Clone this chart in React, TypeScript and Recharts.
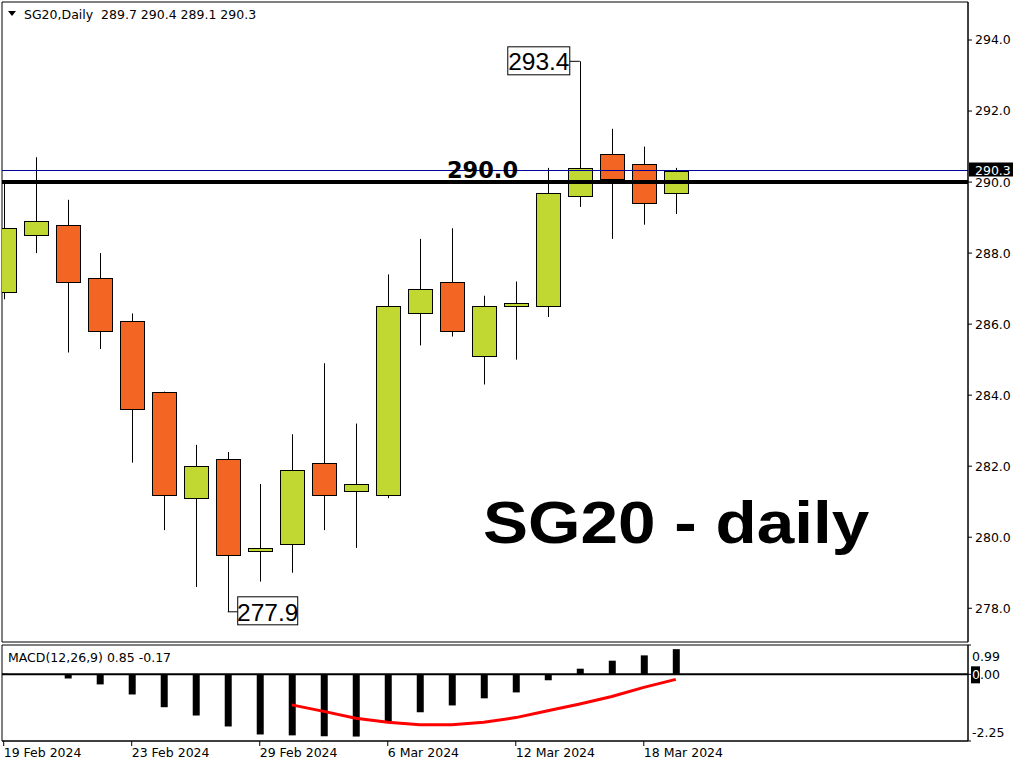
import {
  ComposedChart,
  Bar,
  Line,
  XAxis,
  YAxis,
  ReferenceLine,
  ReferenceArea,
  ReferenceDot,
} from "recharts";

// bar index 0 = 19 Feb 2024 ... 21 = 19 Mar 2024
const dayIndex = [0, 1, 2, 3, 4, 5, 6, 7, 8, 9, 10, 11, 12, 13, 14, 15, 16, 17, 18, 19, 20, 21];
const opens = [286.9, 288.5, 288.8, 287.3, 286.1, 284.1, 281.1, 282.2, 279.6, 279.8, 282.1, 281.3, 281.2, 286.3, 287.2, 285.1, 286.5, 286.5, 289.6, 290.8, 290.5, 289.7];
const highs = [290.0, 290.7, 289.5, 288.0, 286.3, 284.1, 282.6, 282.4, 281.5, 282.9, 284.9, 283.2, 287.4, 288.4, 288.7, 286.8, 287.2, 290.4, 293.4, 291.5, 291.0, 290.4];
const lows = [286.7, 288.0, 285.2, 285.3, 282.1, 280.2, 278.6, 277.9, 278.75, 279.0, 280.2, 279.7, 281.1, 285.4, 285.65, 284.3, 285.0, 286.2, 289.3, 288.4, 288.8, 289.1];
const closes = [288.7, 288.9, 287.2, 285.8, 283.6, 281.2, 282.0, 279.5, 279.7, 281.9, 281.2, 281.5, 286.5, 287.0, 285.8, 286.5, 286.6, 289.7, 290.4, 290.1, 289.4, 290.3];

const macdMain = [0.02, -0.02, -0.14, -0.34, -0.68, -1.11, -1.39, -1.76, -2.03, -2.06, -2.09, -2.1, -1.6, -1.28, -1.05, -0.81, -0.61, -0.2, 0.19, 0.46, 0.64, 0.85];
const macdSignal = [null, null, null, null, null, null, null, null, null, -1.03, -1.25, -1.48, -1.62, -1.7, -1.7, -1.62, -1.46, -1.23, -1.0, -0.75, -0.44, -0.17];

const priceTicks = [278, 280, 282, 284, 286, 288, 290, 292, 294];
const dateTicks = [0, 4, 8, 12, 16, 20];
const dateLabels = ["19 Feb 2024", "23 Feb 2024", "29 Feb 2024", "6 Mar 2024", "12 Mar 2024", "18 Mar 2024"];
const macdTicks = [0.99, 0, -2.25];

const xDomain = [-0.053, 30.13];
const priceDomain = [277.05, 295.07];
const macdDomain = [-2.25, 0.99];

const GREEN = "#c1d832";
const ORANGE = "#f26522";
const FONT = "'DejaVu Sans', Tahoma, sans-serif";

const candles = dayIndex.map((i, k) => ({
  i,
  open: opens[k],
  high: highs[k],
  low: lows[k],
  close: closes[k],
  range: [lows[k], highs[k]],
}));

const macdData = dayIndex.map((i, k) => ({ i, macd: macdMain[k], signal: macdSignal[k] }));

const Candle = (props: any) => {
  const { x, y, width, height, payload } = props;
  if (x == null || y == null) return null;
  const top = Math.min(y, y + height);
  const h = Math.abs(height);
  const { open, close, high, low } = payload;
  const toY = (v: number) => top + ((high - v) / (high - low)) * h;
  const cx = Math.round(x + width / 2) + 0.5;
  const bodyTop = Math.round(toY(Math.max(open, close))) + 0.5;
  let bodyBot = Math.round(toY(Math.min(open, close))) + 0.5;
  if (bodyBot - bodyTop < 2) bodyBot = bodyTop + 2;
  return (
    <g>
      <line x1={cx} x2={cx} y1={top} y2={top + h} stroke="#000" strokeWidth={1} />
      <rect
        x={cx - 12}
        y={bodyTop}
        width={24}
        height={bodyBot - bodyTop}
        fill={close >= open ? GREEN : ORANGE}
        stroke="#000"
        strokeWidth={1}
      />
    </g>
  );
};

// 1px line snapped to the pixel grid so it stays crisp navy
const CrispLine = (props: any) => {
  const { x1, x2, y1, stroke } = props;
  const yy = Math.round(y1) - 0.5;
  return <line x1={x1} x2={x2} y1={yy} y2={yy} stroke={stroke} strokeWidth={1} />;
};

const CurrentPriceLabel = (props: any) => {
  const vb = props.viewBox;
  if (!vb) return null;
  const right = vb.x + vb.width;
  const yy = Math.round(vb.y) - 0.5;
  return (
    <g>
      <rect x={right + 1} y={yy - 8} width={44} height={14} fill="#000" />
      <text x={right + 7} y={yy + 4} fill="#fff" fontFamily={FONT} fontSize={12.5}>
        290.3
      </text>
    </g>
  );
};

const HighCallout = (props: any) => {
  const { cx, cy } = props;
  return (
    <g>
      <line x1={cx} x2={cx - 10} y1={cy} y2={cy} stroke="#000" />
      <rect x={cx - 72} y={cy - 14.5} width={62} height={28} fill="#fff" stroke="#000" />
      <text x={cx - 41} y={cy + 9} textAnchor="middle" fontFamily="'Liberation Sans', Arial" fontSize={24.5} fill="#000">
        293.4
      </text>
    </g>
  );
};

const LowCallout = (props: any) => {
  const { cx, cy } = props;
  return (
    <g>
      <line x1={cx} x2={cx + 10} y1={cy} y2={cy} stroke="#000" />
      <rect x={cx + 10} y={cy - 15} width={60} height={28} fill="#fff" stroke="#000" />
      <text x={cx + 40} y={cy + 9} textAnchor="middle" fontFamily="'Liberation Sans', Arial" fontSize={24.5} fill="#000">
        277.9
      </text>
    </g>
  );
};

const LevelText = (props: any) => {
  const { cx, cy } = props;
  return (
    <text x={cx} y={cy - 4} textAnchor="middle" fontFamily="'DejaVu Sans', Tahoma" fontWeight="bold" fontSize={22.5} fill="#000">
      290.0
    </text>
  );
};

const DateTick = (props: any) => {
  const { x, y, payload } = props;
  const k = dateTicks.indexOf(payload.value);
  return (
    <text x={x} y={y} dy="0.71em" textAnchor="start" fontFamily={FONT} fontSize={12.5} fill="#000">
      {dateLabels[k]}
    </text>
  );
};

const MacdTick = (props: any) => {
  const { x, y, payload } = props;
  const v = payload.value;
  if (v === 0) {
    return (
      <g>
        <rect x={x - 2} y={y - 8} width={9} height={17} fill="#000" />
        <text x={x - 1} y={y + 5} fontFamily={FONT} fontSize={12.5}>
          <tspan fill="#fff">0</tspan>
          <tspan fill="#000">.00</tspan>
        </text>
      </g>
    );
  }
  const dy = v > 0 ? 16 : -4;
  return (
    <text x={x - 1} y={y + dy} fontFamily={FONT} fontSize={12.5} fill="#000">
      {v.toFixed(2)}
    </text>
  );
};

export default function App() {
  return (
    <div style={{ position: "absolute", left: 0, top: 0, width: 1024, height: 768, background: "#fff", fontFamily: FONT }}>
      <div style={{ position: "absolute", left: 0, top: 0 }}>
        <ComposedChart width={1024} height={644} data={candles} margin={{ top: 2, right: 0, bottom: 2, left: 2 }}>
          <XAxis dataKey="i" type="number" domain={xDomain} ticks={dayIndex} allowDataOverflow hide />
          <YAxis
            orientation="right"
            width={56}
            domain={priceDomain}
            ticks={priceTicks}
            interval={0}
            allowDataOverflow
            tickFormatter={(v: number) => v.toFixed(1)}
            tickSize={4}
            tickMargin={3}
            axisLine={{ stroke: "#000" }}
            tickLine={{ stroke: "#000" }}
            tick={{ fontFamily: FONT, fontSize: 12.5, fill: "#000" }}
          />
          <ReferenceArea
            x1={xDomain[0]}
            x2={xDomain[1]}
            y1={priceDomain[0]}
            y2={priceDomain[1]}
            fill="none"
            stroke="#000"
            strokeWidth={1}
          />
          <ReferenceLine y={290} stroke="#000" strokeWidth={4} />
          <ReferenceLine
            y={290.3}
            stroke="#00009c"
            strokeWidth={1}
            shape={(p: any) => <CrispLine {...p} stroke="#00009c" />}
            label={(p: any) => <CurrentPriceLabel {...p} />}
          />
          <Bar dataKey="range" barSize={24} shape={(p: any) => <Candle {...p} />} isAnimationActive={false} />
          <ReferenceDot x={14.96} y={290} r={0} shape={(p: any) => <LevelText {...p} />} />
          <ReferenceDot x={18} y={293.4} r={0} shape={(p: any) => <HighCallout {...p} />} />
          <ReferenceDot x={7} y={277.9} r={0} shape={(p: any) => <LowCallout {...p} />} />
        </ComposedChart>
      </div>
      <div style={{ position: "absolute", left: 0, top: 643 }}>
        <ComposedChart width={1024} height={125} data={macdData} margin={{ top: 2, right: 0, bottom: 0, left: 2 }}>
          <XAxis
            dataKey="i"
            type="number"
            domain={xDomain}
            ticks={dateTicks}
            interval={0}
            allowDataOverflow
            height={27}
            tickSize={5}
            tickMargin={2}
            axisLine={{ stroke: "#000" }}
            tickLine={{ stroke: "#000" }}
            tick={(p: any) => <DateTick {...p} />}
          />
          <YAxis
            orientation="right"
            width={56}
            domain={macdDomain}
            ticks={macdTicks}
            interval={0}
            allowDataOverflow
            tickSize={3}
            tickMargin={2}
            axisLine={{ stroke: "#000" }}
            tickLine={{ stroke: "#000" }}
            tick={(p: any) => <MacdTick {...p} />}
          />
          <ReferenceArea
            x1={xDomain[0]}
            x2={xDomain[1]}
            y1={macdDomain[0]}
            y2={macdDomain[1]}
            fill="none"
            stroke="#000"
            strokeWidth={1}
          />
          <ReferenceLine y={0} stroke="#000" strokeWidth={2} />
          <Bar dataKey="macd" barSize={7} fill="#000" isAnimationActive={false} />
          <Line dataKey="signal" stroke="#ff0000" strokeWidth={3} dot={false} connectNulls={false} isAnimationActive={false} />
        </ComposedChart>
      </div>
      <svg width={1024} height={768} style={{ position: "absolute", left: 0, top: 0, pointerEvents: "none" }}>
        <path d="M8,11 L16,11 L12,16 Z" fill="#000" />
        <text x={24} y={19} fontFamily={FONT} fontSize={12.5} fill="#000" style={{ whiteSpace: "pre" }}>
          {"SG20,Daily  289.7 290.4 289.1 290.3"}
        </text>
        <text x={8} y={662} fontFamily={FONT} fontSize={12.5} fill="#000">
          MACD(12,26,9) 0.85 -0.17
        </text>
        <text
          transform="translate(483,543) scale(1.125,1)"
          x={0}
          y={0}
          fontFamily="'Liberation Sans', Arial"
          fontWeight="bold"
          fontSize={60}
          fill="#000"
        >
          SG20 - daily
        </text>
      </svg>
    </div>
  );
}
